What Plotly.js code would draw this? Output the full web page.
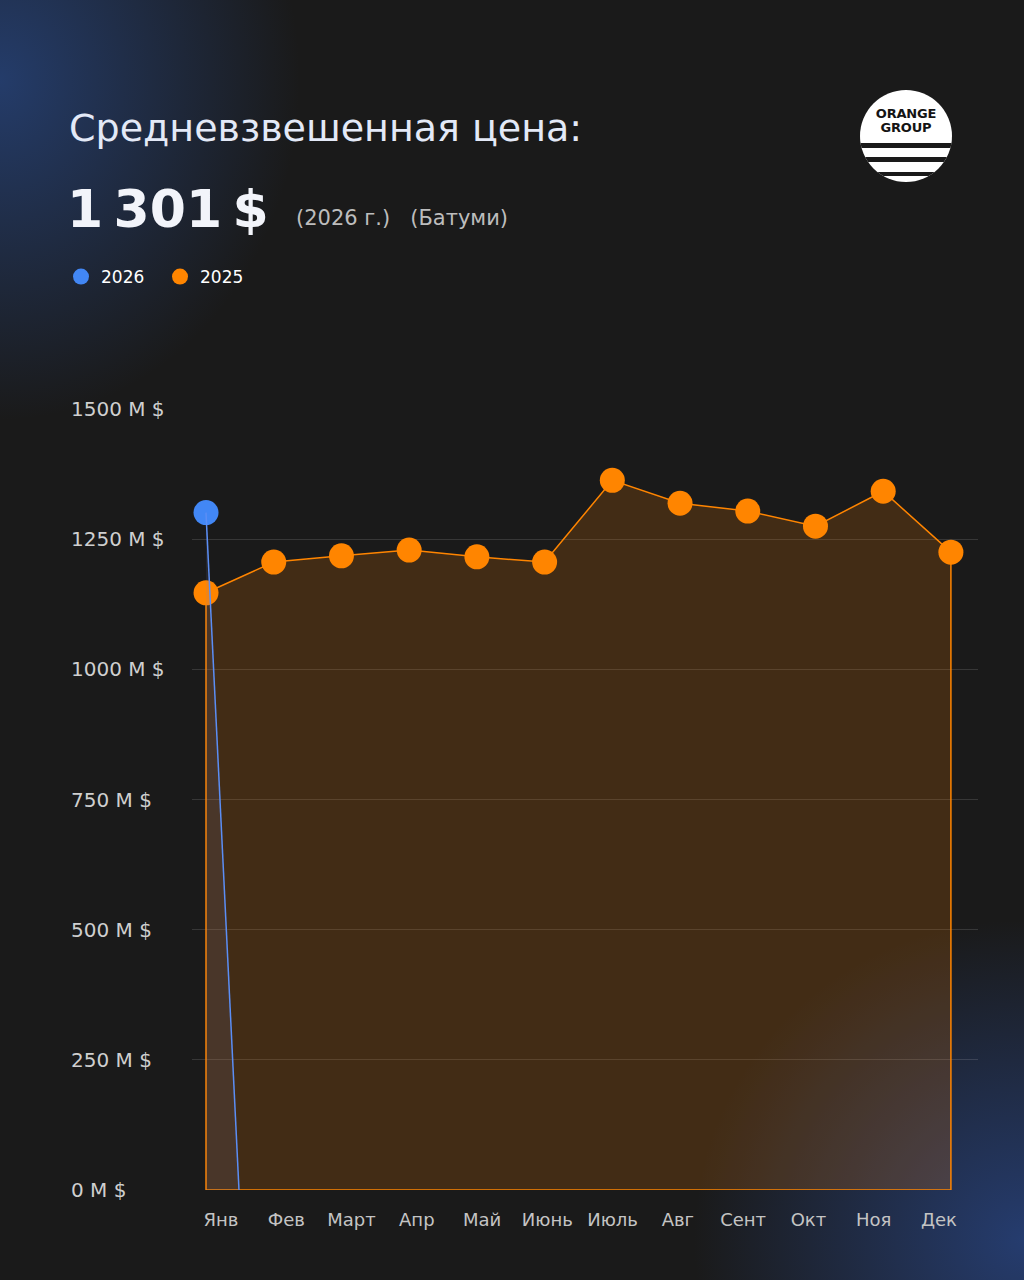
<!DOCTYPE html>
<html>
<head>
<meta charset="utf-8">
<script src="https://cdn.plot.ly/plotly-3.0.1.min.js"></script>
<style>
  html, body { margin: 0; padding: 0; }
  body {
    width: 1024px; height: 1280px; overflow: hidden; position: relative;
    background:
      radial-gradient(ellipse 300px 340px at 0px 80px, rgba(38,66,120,0.85), rgba(38,66,120,0) 100%),
      radial-gradient(ellipse 330px 320px at 1024px 1240px, rgba(38,62,115,0.95), rgba(38,62,115,0) 100%),
      #1a1a1a;
  }
  #chart { position: absolute; left: 0; top: 0; width: 1024px; height: 1280px; }
  #logo {
    position: absolute; left: 860px; top: 90px; width: 92px; height: 92px;
    border-radius: 50%; background: #ffffff; overflow: hidden;
  }
  #logo .txt {
    position: absolute; left: 0; right: 0; text-align: center;
    font-family: "DejaVu Sans", sans-serif; font-weight: bold; font-size: 13px;
    line-height: 13px; color: #141414; letter-spacing: -0.2px;
  }
  #logo .band { position: absolute; left: 0; right: 0; background: #1a1a1a; }
</style>
</head>
<body>
<div id="chart"></div>
<div id="logo">
  <div class="txt" style="top:17px">ORANGE</div>
  <div class="txt" style="top:31px">GROUP</div>
  <div class="band" style="top:53px;height:5px"></div>
  <div class="band" style="top:67px;height:5px"></div>
  <div class="band" style="top:82px;height:4px"></div>
</div>
<script>
// ---- data ----
const months = ['Янв','Фев','Март','Апр','Май','Июнь','Июль','Авг','Сент','Окт','Ноя','Дек'];
const price2025 = [1147, 1206, 1218, 1229, 1216, 1206, 1363, 1319, 1304, 1275, 1342, 1225];
const months2026 = ['Янв', 'Фев'];
const price2026 = [1301, 0];
const yTicks = [0, 250, 500, 750, 1000, 1250, 1500];
const yTickLabels = yTicks.map(v => v + ' M $');
const headline = '1\u2009301\u2009$';

const FONT = '"DejaVu Sans", sans-serif';
const ORANGE = '#ff8500';
const BLUE = '#4287f5';

// plot area in pixels
const L = 192, R = 978, T = 409, B = 1190;
const px = x => (x - L) / (R - L);
const py = y => (B - y) / (B - T);

const n = months.length;
const last = n - 1;

// 2025 area polygon (closed, outlined)
const polyX = months.concat([months[last], months[0], months[0]]);
const polyY = price2025.concat([0, 0, price2025[0]]);

const traces = [
  { // 2025 filled area with outline
    x: polyX, y: polyY, type: 'scatter', mode: 'lines',
    fill: 'toself', fillcolor: 'rgba(255,133,0,0.175)',
    line: { color: ORANGE, width: 1.5 }, hoverinfo: 'skip', showlegend: false
  },
  { // 2025 markers
    x: months, y: price2025, type: 'scatter', mode: 'markers', name: '2025',
    marker: { color: ORANGE, size: 25 }, legendrank: 2
  },
  { // 2026 fill
    x: [months2026[0], months2026[1], months2026[0], months2026[0]],
    y: [price2026[0], price2026[1], 0, price2026[0]],
    xaxis: 'x2', type: 'scatter', mode: 'lines', fill: 'toself',
    fillcolor: 'rgba(120,130,190,0.12)', line: { width: 0, color: 'rgba(0,0,0,0)' },
    hoverinfo: 'skip', showlegend: false
  },
  { // 2026 line
    x: months2026, y: price2026, xaxis: 'x2', type: 'scatter', mode: 'lines',
    line: { color: '#5b8ef5', width: 1.5 }, hoverinfo: 'skip', showlegend: false
  },
  { // 2026 marker
    x: [months2026[0]], y: [price2026[0]], type: 'scatter', mode: 'markers', name: '2026',
    marker: { color: BLUE, size: 25 }, legendrank: 1
  },
  { // invisible trace carrying month tick labels
    x: months, y: price2025, xaxis: 'x3', type: 'scatter', mode: 'markers',
    marker: { opacity: 0 }, hoverinfo: 'skip', showlegend: false
  }
];

const annotations = yTicks.map((v, i) => ({
  xref: 'paper', yref: 'y', x: px(69), y: v, xanchor: 'left', yanchor: 'middle',
  text: yTickLabels[i], showarrow: false, font: { family: FONT, size: 20, color: '#cfcfcf' }
}));
annotations.push({
  xref: 'paper', yref: 'paper', x: px(67), y: py(128), xanchor: 'left', yanchor: 'middle',
  text: 'Средневзвешенная цена:', showarrow: false,
  font: { family: FONT, size: 38, color: '#e3e9f7' }
});
annotations.push({
  xref: 'paper', yref: 'paper', x: px(65), y: py(209), xanchor: 'left', yanchor: 'middle',
  text: '<b>' + headline + '</b>', showarrow: false,
  font: { family: FONT, size: 52, color: '#f2f4fa' }
});
annotations.push({
  xref: 'paper', yref: 'paper', x: px(294), y: py(218), xanchor: 'left', yanchor: 'middle',
  text: '(2026 г.)\u00a0\u00a0 (Батуми)', showarrow: false,
  font: { family: FONT, size: 21, color: '#bdbdbd' }
});

const layout = {
  width: 1024, height: 1280,
  margin: { l: L, r: 1024 - R, t: T, b: 1280 - B, pad: 0 },
  paper_bgcolor: 'rgba(0,0,0,0)', plot_bgcolor: 'rgba(0,0,0,0)',
  showlegend: true,
  legend: {
    orientation: 'h', x: px(61), y: py(277), xanchor: 'left', yanchor: 'middle',
    font: { family: FONT, size: 17, color: '#ffffff' }, bgcolor: 'rgba(0,0,0,0)',
    itemsizing: 'trace', itemwidth: 30, entrywidth: 54, tracegroupgap: 0
  },
  xaxis: {
    type: 'category', range: [-0.207, 11.40], showticklabels: false,
    showgrid: false, zeroline: false, showline: false, fixedrange: true
  },
  xaxis2: {
    type: 'category', overlaying: 'x', range: [-0.424, 23.39], visible: false
  },
  xaxis3: {
    type: 'category', overlaying: 'x', side: 'bottom', range: [-0.444, 11.598],
    showgrid: false, zeroline: false, showline: false,
    ticks: 'outside', ticklen: 13, tickcolor: 'rgba(0,0,0,0)',
    tickfont: { family: FONT, size: 18, color: '#c4c4c4' }
  },
  yaxis: {
    range: [0, 1500], tickvals: yTicks, showticklabels: false,
    showgrid: true, gridcolor: 'rgba(255,255,255,0.13)', gridwidth: 1,
    zeroline: false, showline: false, fixedrange: true
  },
  annotations: annotations,
  hovermode: false
};

Plotly.newPlot('chart', traces, layout, { displayModeBar: false, staticPlot: true });
</script>
</body>
</html>
